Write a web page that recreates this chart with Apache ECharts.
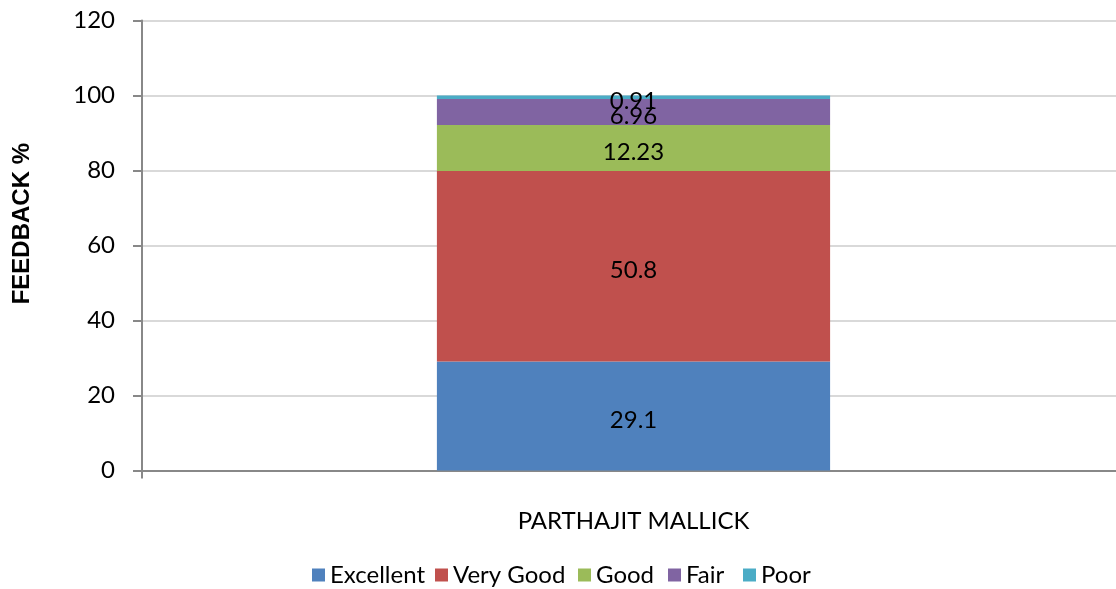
<!DOCTYPE html>
<html><head><meta charset="utf-8">
<script src="https://cdn.jsdelivr.net/npm/echarts@6/dist/echarts.min.js"></script>
<style>html,body{margin:0;padding:0;background:#fff}#c{width:1116px;height:589px}</style>
</head><body><div id="c"></div>
<script>
const categories = ['PARTHAJIT MALLICK'];
const seriesNames = ['Excellent', 'Very Good', 'Good', 'Fair', 'Poor'];
const excellent = [29.1];
const veryGood = [50.8];
const good = [12.23];
const fair = [6.96];
const poor = [0.91];
const colors = ['#4F81BD', '#C0504D', '#9BBB59', '#8064A2', '#4BACC6'];
const yTicks = { min: 0, max: 120, interval: 20 };

const values = [excellent, veryGood, good, fair, poor];
const legendLeft = [307, 430, 573, 663, 738];
const FONT = 'Lato';
const chart = echarts.init(document.getElementById('c'));
chart.setOption({
  animation: false,
  textStyle: { fontFamily: FONT },
  grid: { left: 142, width: 983, top: 20.5, bottom: 118.5, outerBoundsMode: 'none', containLabel: false },
  legend: seriesNames.map((n, i) => ({
    top: 558, left: legendLeft[i],
    itemWidth: 13, itemHeight: 13, itemGap: 5,
    icon: 'rect',
    textStyle: { fontSize: 24, color: '#000', fontFamily: FONT },
    data: [n]
  })),
  xAxis: {
    type: 'category', data: categories,
    axisLine: { lineStyle: { color: '#888', width: 2 } },
    axisTick: { show: true, alignWithLabel: false, length: 8, lineStyle: { color: '#888', width: 2 } },
    axisLabel: { fontSize: 24, color: '#000', margin: 39, fontFamily: FONT }
  },
  yAxis: {
    type: 'value', min: yTicks.min, max: yTicks.max, interval: yTicks.interval,
    axisLine: { show: true, lineStyle: { color: '#888', width: 2 } },
    axisTick: { show: true, length: 9, lineStyle: { color: '#888', width: 2 } },
    axisLabel: { fontSize: 24, color: '#000', margin: 27, fontFamily: FONT, padding: [5, 0, 0, 0] },
    splitLine: { lineStyle: { color: '#d9d9d9', width: 2 } }
  },
  graphic: [{
    type: 'text', left: 10, top: 143, rotation: Math.PI / 2,
    style: { text: 'FEEDBACK %', font: 'bold 24px "Liberation Sans", Arial, sans-serif', fill: '#000' }
  }],
  series: seriesNames.map((n, i) => ({
    name: n, type: 'bar', stack: 'total', barWidth: '40%',
    data: values[i],
    itemStyle: { color: colors[i] },
    label: { show: true, position: 'inside', offset: [0, 4], fontSize: 24, color: '#000', fontFamily: FONT }
  }))
});
</script></body></html>
